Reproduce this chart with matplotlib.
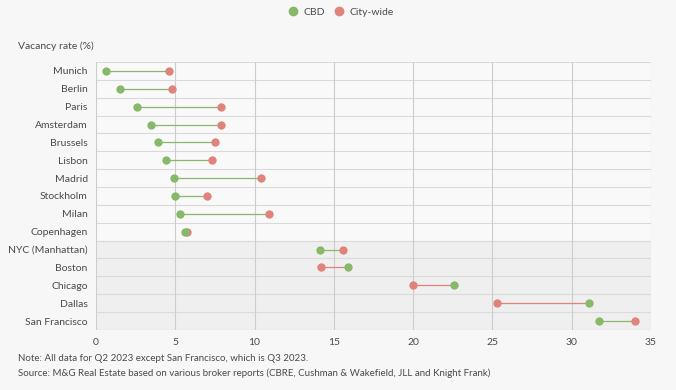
import numpy as np
import matplotlib.pyplot as plt
from matplotlib.lines import Line2D

cities = ["Munich", "Berlin", "Paris", "Amsterdam", "Brussels", "Lisbon", "Madrid",
          "Stockholm", "Milan", "Copenhagen", "NYC (Manhattan)", "Boston", "Chicago",
          "Dallas", "San Francisco"]
cbd = [0.6, 1.5, 2.6, 3.5, 3.9, 4.4, 4.9, 5.0, 5.3, 5.6, 14.1, 15.9, 22.6, 31.1, 31.7]
city_wide = [4.6, 4.8, 7.9, 7.9, 7.5, 7.3, 10.4, 7.0, 10.9, 5.75, 15.6, 14.2, 20.0, 25.3, 34.0]
xticks = [0, 5, 10, 15, 20, 25, 30, 35]

green = "#88b96b"
red = "#e0837c"
txt = "#4a4a4a"

plt.rcParams["font.family"] = ["Lato", "DejaVu Sans"]

fig = plt.figure(figsize=(6.76, 3.9), dpi=100, facecolor="#f7f7f7")
ax = fig.add_axes([0.142, 0.154, 0.821, 0.687])
ax.set_facecolor("#f9f9f9")

y = np.arange(len(cities))
# US rows shaded
ax.axhspan(9.5, len(cities) - 0.5, color="#efefef", zorder=0)

for i in range(len(cities)):
    c = green if cbd[i] < city_wide[i] else red
    ax.plot([cbd[i], city_wide[i]], [i, i], color=c, lw=0.9, zorder=2)
ax.scatter(city_wide, y, s=36, color=red, zorder=3, linewidths=0)
ax.scatter(cbd, y, s=36, color=green, zorder=4, linewidths=0)

ax.set_xlim(0, 35)
ax.set_ylim(len(cities) - 0.5, -0.5)
ax.set_xticks(xticks)
ax.set_yticks(y)
ax.set_yticklabels(cities)
for b in np.arange(-0.5, len(cities), 1):
    ax.axhline(b, color="#dadada", lw=0.8, zorder=1)
for t in xticks:
    ax.axvline(t, color="#cdcdcd", lw=0.8, zorder=1)
for s in ax.spines.values():
    s.set_visible(False)
ax.tick_params(length=0, labelsize=7.5, colors=txt, pad=6)

handles = [Line2D([], [], marker="o", ls="", color=green, markersize=6, label="CBD"),
           Line2D([], [], marker="o", ls="", color=red, markersize=6, label="City-wide")]
fig.legend(handles=handles, loc="center", bbox_to_anchor=(0.5, 0.968), ncol=2,
           frameon=False, fontsize=7.5, handletextpad=0.0, columnspacing=0.3,
           labelcolor=txt)

fig.text(0.027, 0.882, "Vacancy rate (%)", fontsize=7.5, color=txt, va="center")
fig.text(0.027, 0.08, "Note: All data for Q2 2023 except San Francisco, which is Q3 2023.",
         fontsize=7, color=txt, va="center")
fig.text(0.027, 0.043, "Source: M&G Real Estate based on various broker reports "
         "(CBRE, Cushman & Wakefield, JLL and Knight Frank)",
         fontsize=7, color=txt, va="center")

fig.savefig("out.png", dpi=100, facecolor=fig.get_facecolor())
